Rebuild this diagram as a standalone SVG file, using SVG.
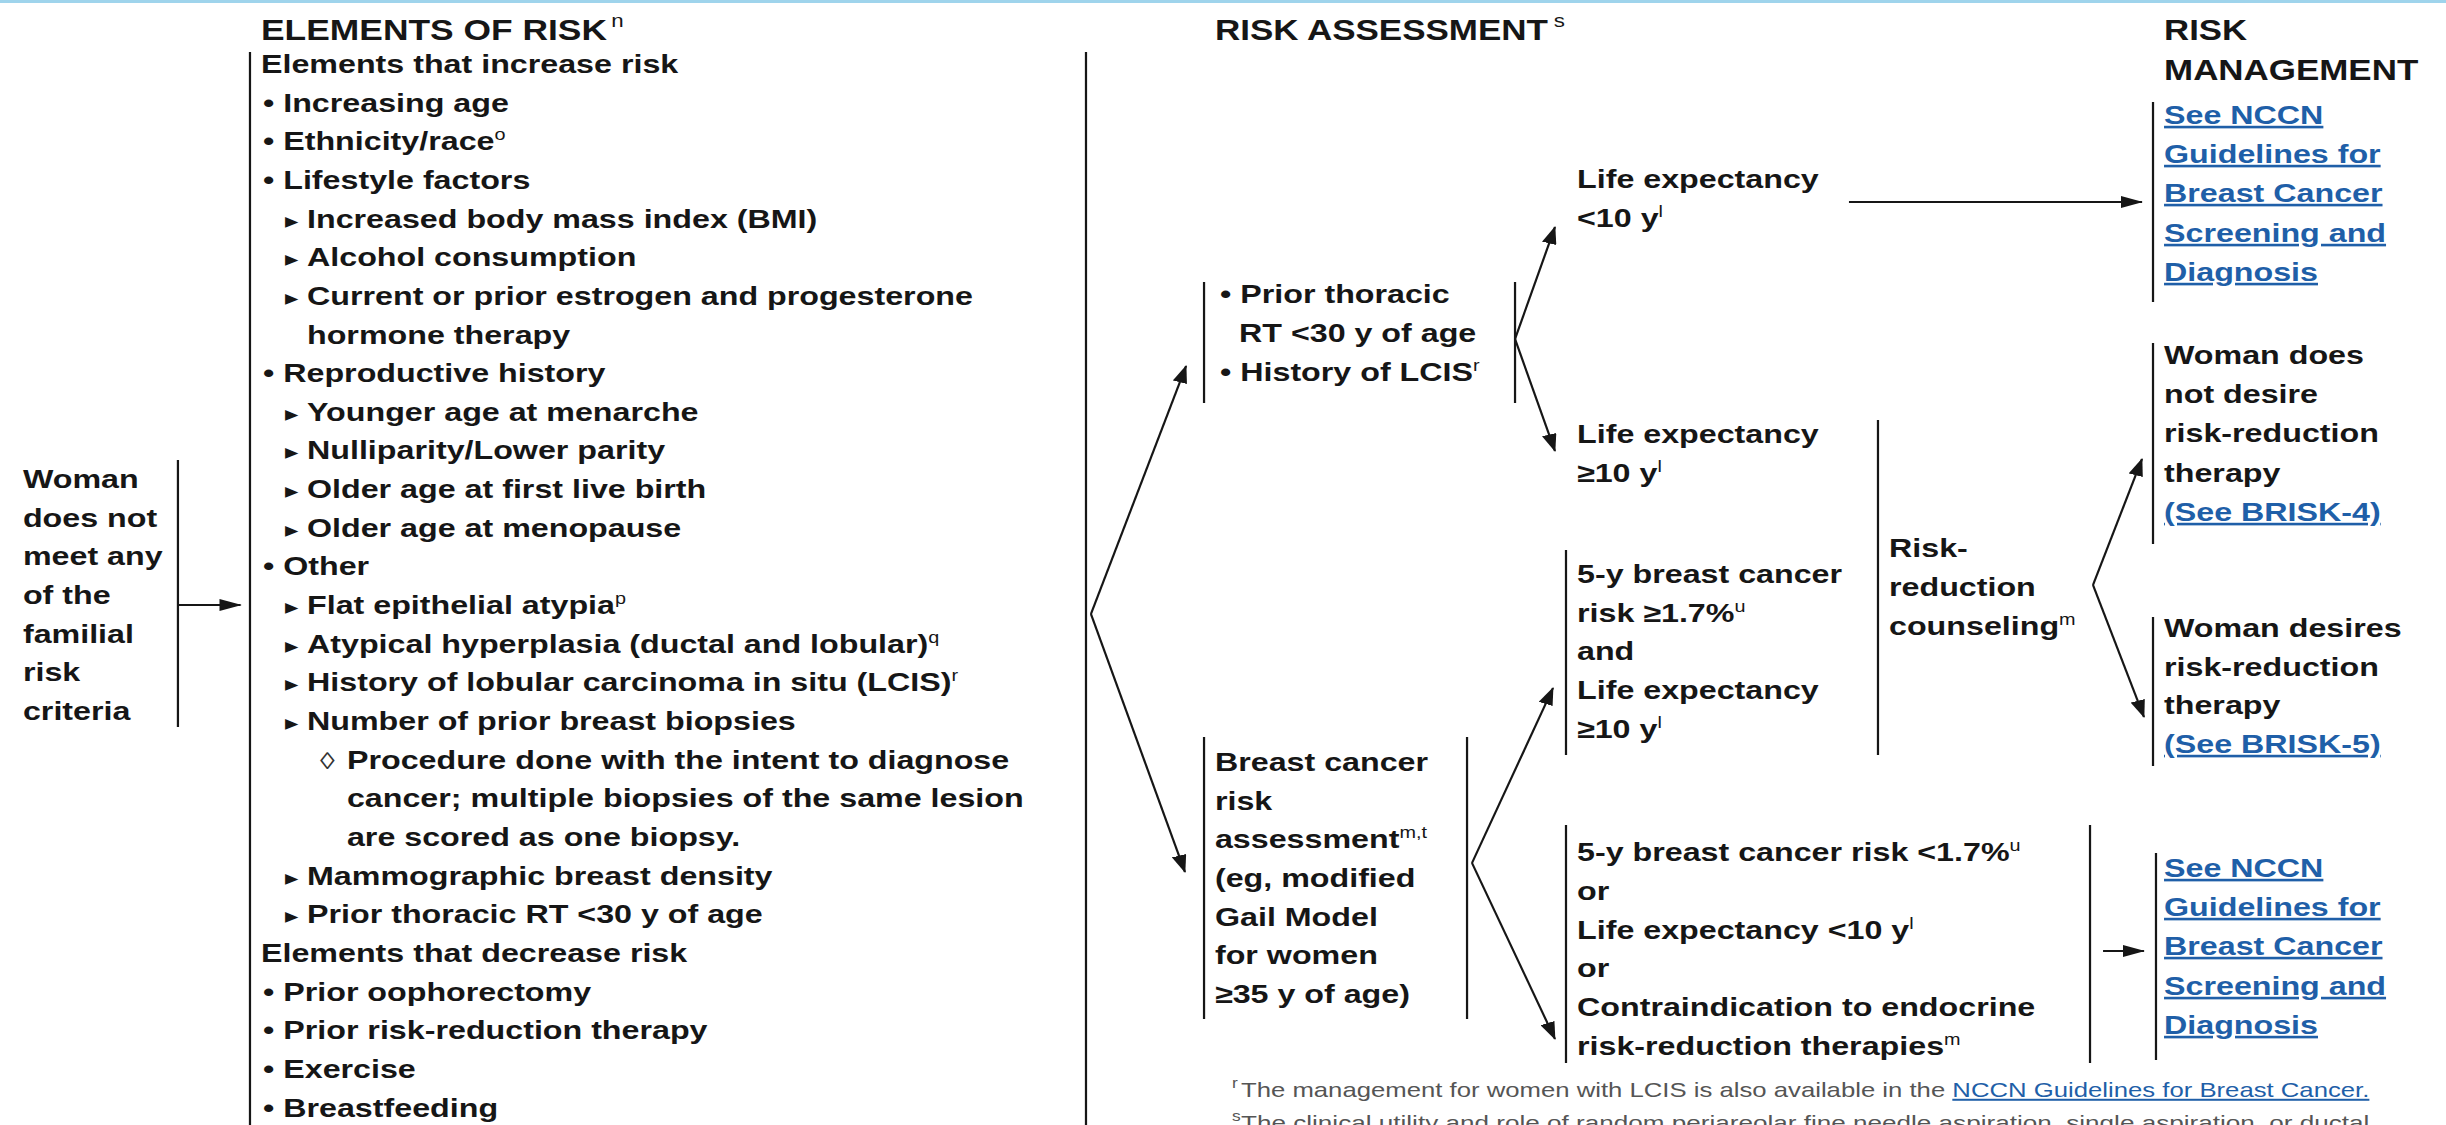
<svg xmlns="http://www.w3.org/2000/svg" width="2446" height="1125" viewBox="0 0 2446 1125">
<style>
.t{font-family:"Liberation Sans",Arial,sans-serif;font-size:26px;font-weight:bold;fill:#161616}
.h{font-size:29px}
.sup{font-size:16px;font-weight:normal}
.hsup{font-family:"Liberation Sans",Arial,sans-serif;font-size:18px;fill:#161616}
.tri{font-family:"DejaVu Sans",sans-serif;font-size:14px;fill:#161616}
.dia{font-family:"Liberation Sans","DejaVu Sans",sans-serif;font-size:24px;fill:#333}
.lk{fill:#1f5fa8;text-decoration:underline}
.fn{font-family:"Liberation Sans",Arial,sans-serif;font-size:20px;font-weight:normal;fill:#555}
.ln{stroke:#161616;stroke-width:1.8;fill:none}
.ar{stroke:#161616;stroke-width:1.8;fill:none;marker-end:url(#ah)}
</style>
<defs>
<marker id="ah" markerUnits="userSpaceOnUse" markerWidth="18" markerHeight="12" refX="17" refY="6" orient="auto">
<path d="M0,0 L18,6 L0,12 z" fill="#161616"/>
</marker>
</defs>
<rect width="2446" height="1125" fill="#fff"/>
<line x1="0" y1="1.5" x2="2446" y2="1.5" stroke="#9fd4ec" stroke-width="3"/>
<g transform="scale(1.24 1)">

<g id="connectors">
<line class="ar" x1="143.5" y1="605" x2="194" y2="605"/>
<line class="ar" x1="879.8" y1="614" x2="956.5" y2="366"/>
<line class="ar" x1="879.8" y1="614" x2="955.6" y2="872"/>
<line class="ar" x1="1221.8" y1="339" x2="1254" y2="227"/>
<line class="ar" x1="1221.8" y1="339" x2="1254" y2="451"/>
<line class="ar" x1="1491.1" y1="202" x2="1727.4" y2="202"/>
<line class="ar" x1="1187.1" y1="863" x2="1252.4" y2="688"/>
<line class="ar" x1="1187.1" y1="863" x2="1254" y2="1039"/>
<line class="ar" x1="1687.9" y1="585" x2="1727.4" y2="459"/>
<line class="ar" x1="1687.9" y1="585" x2="1729" y2="717"/>
<line class="ar" x1="1696" y1="951" x2="1729" y2="951"/>
</g>

<g id="woman">
<text class="t" x="18.5" y="488">Woman</text>
<text class="t" x="18.5" y="526.7">does not</text>
<text class="t" x="18.5" y="565.3">meet any</text>
<text class="t" x="18.5" y="604">of the</text>
<text class="t" x="18.5" y="642.6">familial</text>
<text class="t" x="18.5" y="681.3">risk</text>
<text class="t" x="18.5" y="719.9">criteria</text>
<line class="ln" x1="143.5" y1="460" x2="143.5" y2="727"/>
</g>

<g id="elements">
<text class="t h" x="210.5" y="40" textLength="279" lengthAdjust="spacingAndGlyphs">ELEMENTS OF RISK</text>
<text class="hsup" x="493" y="27">n</text>
<line class="ln" x1="201.6" y1="52" x2="201.6" y2="1125"/>
<line class="ln" x1="875.8" y1="52" x2="875.8" y2="1125"/>
<text class="t" x="210.5" y="73">Elements that increase risk</text>
<text class="t" x="212.1" y="111.7">• Increasing age</text>
<text class="t" x="212.1" y="150.3">• Ethnicity/race<tspan class="sup" dy="-10">o</tspan></text>
<text class="t" x="212.1" y="189">• Lifestyle factors</text>
<text class="tri" x="229.8" y="225.6">▶</text><text class="t" x="247.6" y="227.6">Increased body mass index (BMI)</text>
<text class="tri" x="229.8" y="264.3">▶</text><text class="t" x="247.6" y="266.3">Alcohol consumption</text>
<text class="tri" x="229.8" y="302.9">▶</text><text class="t" x="247.6" y="304.9">Current or prior estrogen and progesterone</text>
<text class="t" x="247.6" y="343.6">hormone therapy</text>
<text class="t" x="212.1" y="382.2">• Reproductive history</text>
<text class="tri" x="229.8" y="418.9">▶</text><text class="t" x="247.6" y="420.9">Younger age at menarche</text>
<text class="tri" x="229.8" y="457.5">▶</text><text class="t" x="247.6" y="459.5">Nulliparity/Lower parity</text>
<text class="tri" x="229.8" y="496.2">▶</text><text class="t" x="247.6" y="498.2">Older age at first live birth</text>
<text class="tri" x="229.8" y="534.8">▶</text><text class="t" x="247.6" y="536.8">Older age at menopause</text>
<text class="t" x="212.1" y="575.5">• Other</text>
<text class="tri" x="229.8" y="612.1">▶</text><text class="t" x="247.6" y="614.1">Flat epithelial atypia<tspan class="sup" dy="-10">p</tspan></text>
<text class="tri" x="229.8" y="650.8">▶</text><text class="t" x="247.6" y="652.8">Atypical hyperplasia (ductal and lobular)<tspan class="sup" dy="-10">q</tspan></text>
<text class="tri" x="229.8" y="689.4">▶</text><text class="t" x="247.6" y="691.4">History of lobular carcinoma in situ (LCIS)<tspan class="sup" dy="-10">r</tspan></text>
<text class="tri" x="229.8" y="728.1">▶</text><text class="t" x="247.6" y="730.1">Number of prior breast biopsies</text>
<text class="dia" x="258" y="768.7">◊</text><text class="t" x="279.8" y="768.7">Procedure done with the intent to diagnose</text>
<text class="t" x="279.8" y="807.4">cancer; multiple biopsies of the same lesion</text>
<text class="t" x="279.8" y="846">are scored as one biopsy.</text>
<text class="tri" x="229.8" y="882.7">▶</text><text class="t" x="247.6" y="884.7">Mammographic breast density</text>
<text class="tri" x="229.8" y="921.3">▶</text><text class="t" x="247.6" y="923.3">Prior thoracic RT &lt;30 y of age</text>
<text class="t" x="210.5" y="962">Elements that decrease risk</text>
<text class="t" x="212.1" y="1000.6">• Prior oophorectomy</text>
<text class="t" x="212.1" y="1039.3">• Prior risk-reduction therapy</text>
<text class="t" x="212.1" y="1077.9">• Exercise</text>
<text class="t" x="212.1" y="1116.6">• Breastfeeding</text>
</g>

<g id="assessment-title">
<text class="t h" x="979.8" y="40" textLength="268.5" lengthAdjust="spacingAndGlyphs">RISK ASSESSMENT</text>
<text class="hsup" x="1253" y="27">s</text>
</g>

<g id="prior-rt">
<line class="ln" x1="971" y1="282" x2="971" y2="403"/>
<line class="ln" x1="1221.8" y1="282" x2="1221.8" y2="403"/>
<text class="t" x="983.9" y="303">• Prior thoracic</text>
<text class="t" x="999.2" y="342">RT &lt;30 y of age</text>
<text class="t" x="983.9" y="381">• History of LCIS<tspan class="sup" dy="-10">r</tspan></text>
</g>

<g id="life-lt10">
<text class="t" x="1271.8" y="188">Life expectancy</text>
<text class="t" x="1271.8" y="227">&lt;10 y<tspan class="sup" dy="-10">l</tspan></text>
</g>

<g id="life-ge10">
<text class="t" x="1271.8" y="443">Life expectancy</text>
<text class="t" x="1271.8" y="482">≥10 y<tspan class="sup" dy="-10">l</tspan></text>
</g>

<g id="gail">
<line class="ln" x1="971" y1="737" x2="971" y2="1019"/>
<line class="ln" x1="1183.1" y1="737" x2="1183.1" y2="1019"/>
<text class="t" x="979.8" y="771">Breast cancer</text>
<text class="t" x="979.8" y="809.7">risk</text>
<text class="t" x="979.8" y="848.3">assessment<tspan class="sup" dy="-10">m,t</tspan></text>
<text class="t" x="979.8" y="887">(eg, modified</text>
<text class="t" x="979.8" y="925.6">Gail Model</text>
<text class="t" x="979.8" y="964.3">for women</text>
<text class="t" x="979.8" y="1002.9">≥35 y of age)</text>
</g>

<g id="high-risk">
<line class="ln" x1="1262.9" y1="550" x2="1262.9" y2="755"/>
<text class="t" x="1271.8" y="583">5-y breast cancer</text>
<text class="t" x="1271.8" y="621.7">risk ≥1.7%<tspan class="sup" dy="-10">u</tspan></text>
<text class="t" x="1271.8" y="660.4">and</text>
<text class="t" x="1271.8" y="699">Life expectancy</text>
<text class="t" x="1271.8" y="737.8">≥10 y<tspan class="sup" dy="-10">l</tspan></text>
</g>

<g id="counseling">
<line class="ln" x1="1514.5" y1="420" x2="1514.5" y2="755"/>
<text class="t" x="1523.4" y="557">Risk-</text>
<text class="t" x="1523.4" y="596">reduction</text>
<text class="t" x="1523.4" y="635">counseling<tspan class="sup" dy="-10">m</tspan></text>
</g>

<g id="low-risk">
<line class="ln" x1="1262.9" y1="825" x2="1262.9" y2="1063"/>
<line class="ln" x1="1685.5" y1="825" x2="1685.5" y2="1063"/>
<text class="t" x="1271.8" y="861">5-y breast cancer risk &lt;1.7%<tspan class="sup" dy="-10">u</tspan></text>
<text class="t" x="1271.8" y="899.8">or</text>
<text class="t" x="1271.8" y="938.6">Life expectancy &lt;10 y<tspan class="sup" dy="-10">l</tspan></text>
<text class="t" x="1271.8" y="977.4">or</text>
<text class="t" x="1271.8" y="1016.2">Contraindication to endocrine</text>
<text class="t" x="1271.8" y="1055">risk-reduction therapies<tspan class="sup" dy="-10">m</tspan></text>
</g>

<g id="management-title">
<text class="t h" x="1745.2" y="40" textLength="67" lengthAdjust="spacingAndGlyphs">RISK</text>
<text class="t h" x="1745.2" y="80" textLength="205" lengthAdjust="spacingAndGlyphs">MANAGEMENT</text>
</g>

<g id="nccn-top">
<line class="ln" x1="1736.3" y1="102" x2="1736.3" y2="302"/>
<text class="t lk" x="1745.2" y="124">See NCCN</text>
<text class="t lk" x="1745.2" y="163">Guidelines for</text>
<text class="t lk" x="1745.2" y="202">Breast Cancer</text>
<text class="t lk" x="1745.2" y="242">Screening and</text>
<text class="t lk" x="1745.2" y="281">Diagnosis</text>
</g>

<g id="not-desire">
<line class="ln" x1="1736.3" y1="343" x2="1736.3" y2="544"/>
<text class="t" x="1745.2" y="364">Woman does</text>
<text class="t" x="1745.2" y="403">not desire</text>
<text class="t" x="1745.2" y="442">risk-reduction</text>
<text class="t" x="1745.2" y="482">therapy</text>
<text class="t lk" x="1745.2" y="521">(See BRISK-4)</text>
</g>

<g id="desires">
<line class="ln" x1="1736.3" y1="617" x2="1736.3" y2="766"/>
<text class="t" x="1745.2" y="637">Woman desires</text>
<text class="t" x="1745.2" y="676">risk-reduction</text>
<text class="t" x="1745.2" y="714">therapy</text>
<text class="t lk" x="1745.2" y="753">(See BRISK-5)</text>
</g>

<g id="nccn-bottom">
<line class="ln" x1="1738.7" y1="853" x2="1738.7" y2="1060"/>
<text class="t lk" x="1745.2" y="877">See NCCN</text>
<text class="t lk" x="1745.2" y="916">Guidelines for</text>
<text class="t lk" x="1745.2" y="955">Breast Cancer</text>
<text class="t lk" x="1745.2" y="995">Screening and</text>
<text class="t lk" x="1745.2" y="1034">Diagnosis</text>
</g>

<g id="footnotes">
<text class="fn" x="993.5" y="1088" style="font-size:14px">r</text>
<text class="fn" x="1000.8" y="1097" textLength="910" lengthAdjust="spacingAndGlyphs">The management for women with LCIS is also available in the <tspan class="lk">NCCN Guidelines for Breast Cancer.</tspan></text>
<text class="fn" x="993.5" y="1121" style="font-size:14px">s</text>
<text class="fn" x="1000.8" y="1130" textLength="910" lengthAdjust="spacingAndGlyphs">The clinical utility and role of random periareolar fine needle aspiration, single aspiration, or ductal</text>
</g>

</g>
</svg>
